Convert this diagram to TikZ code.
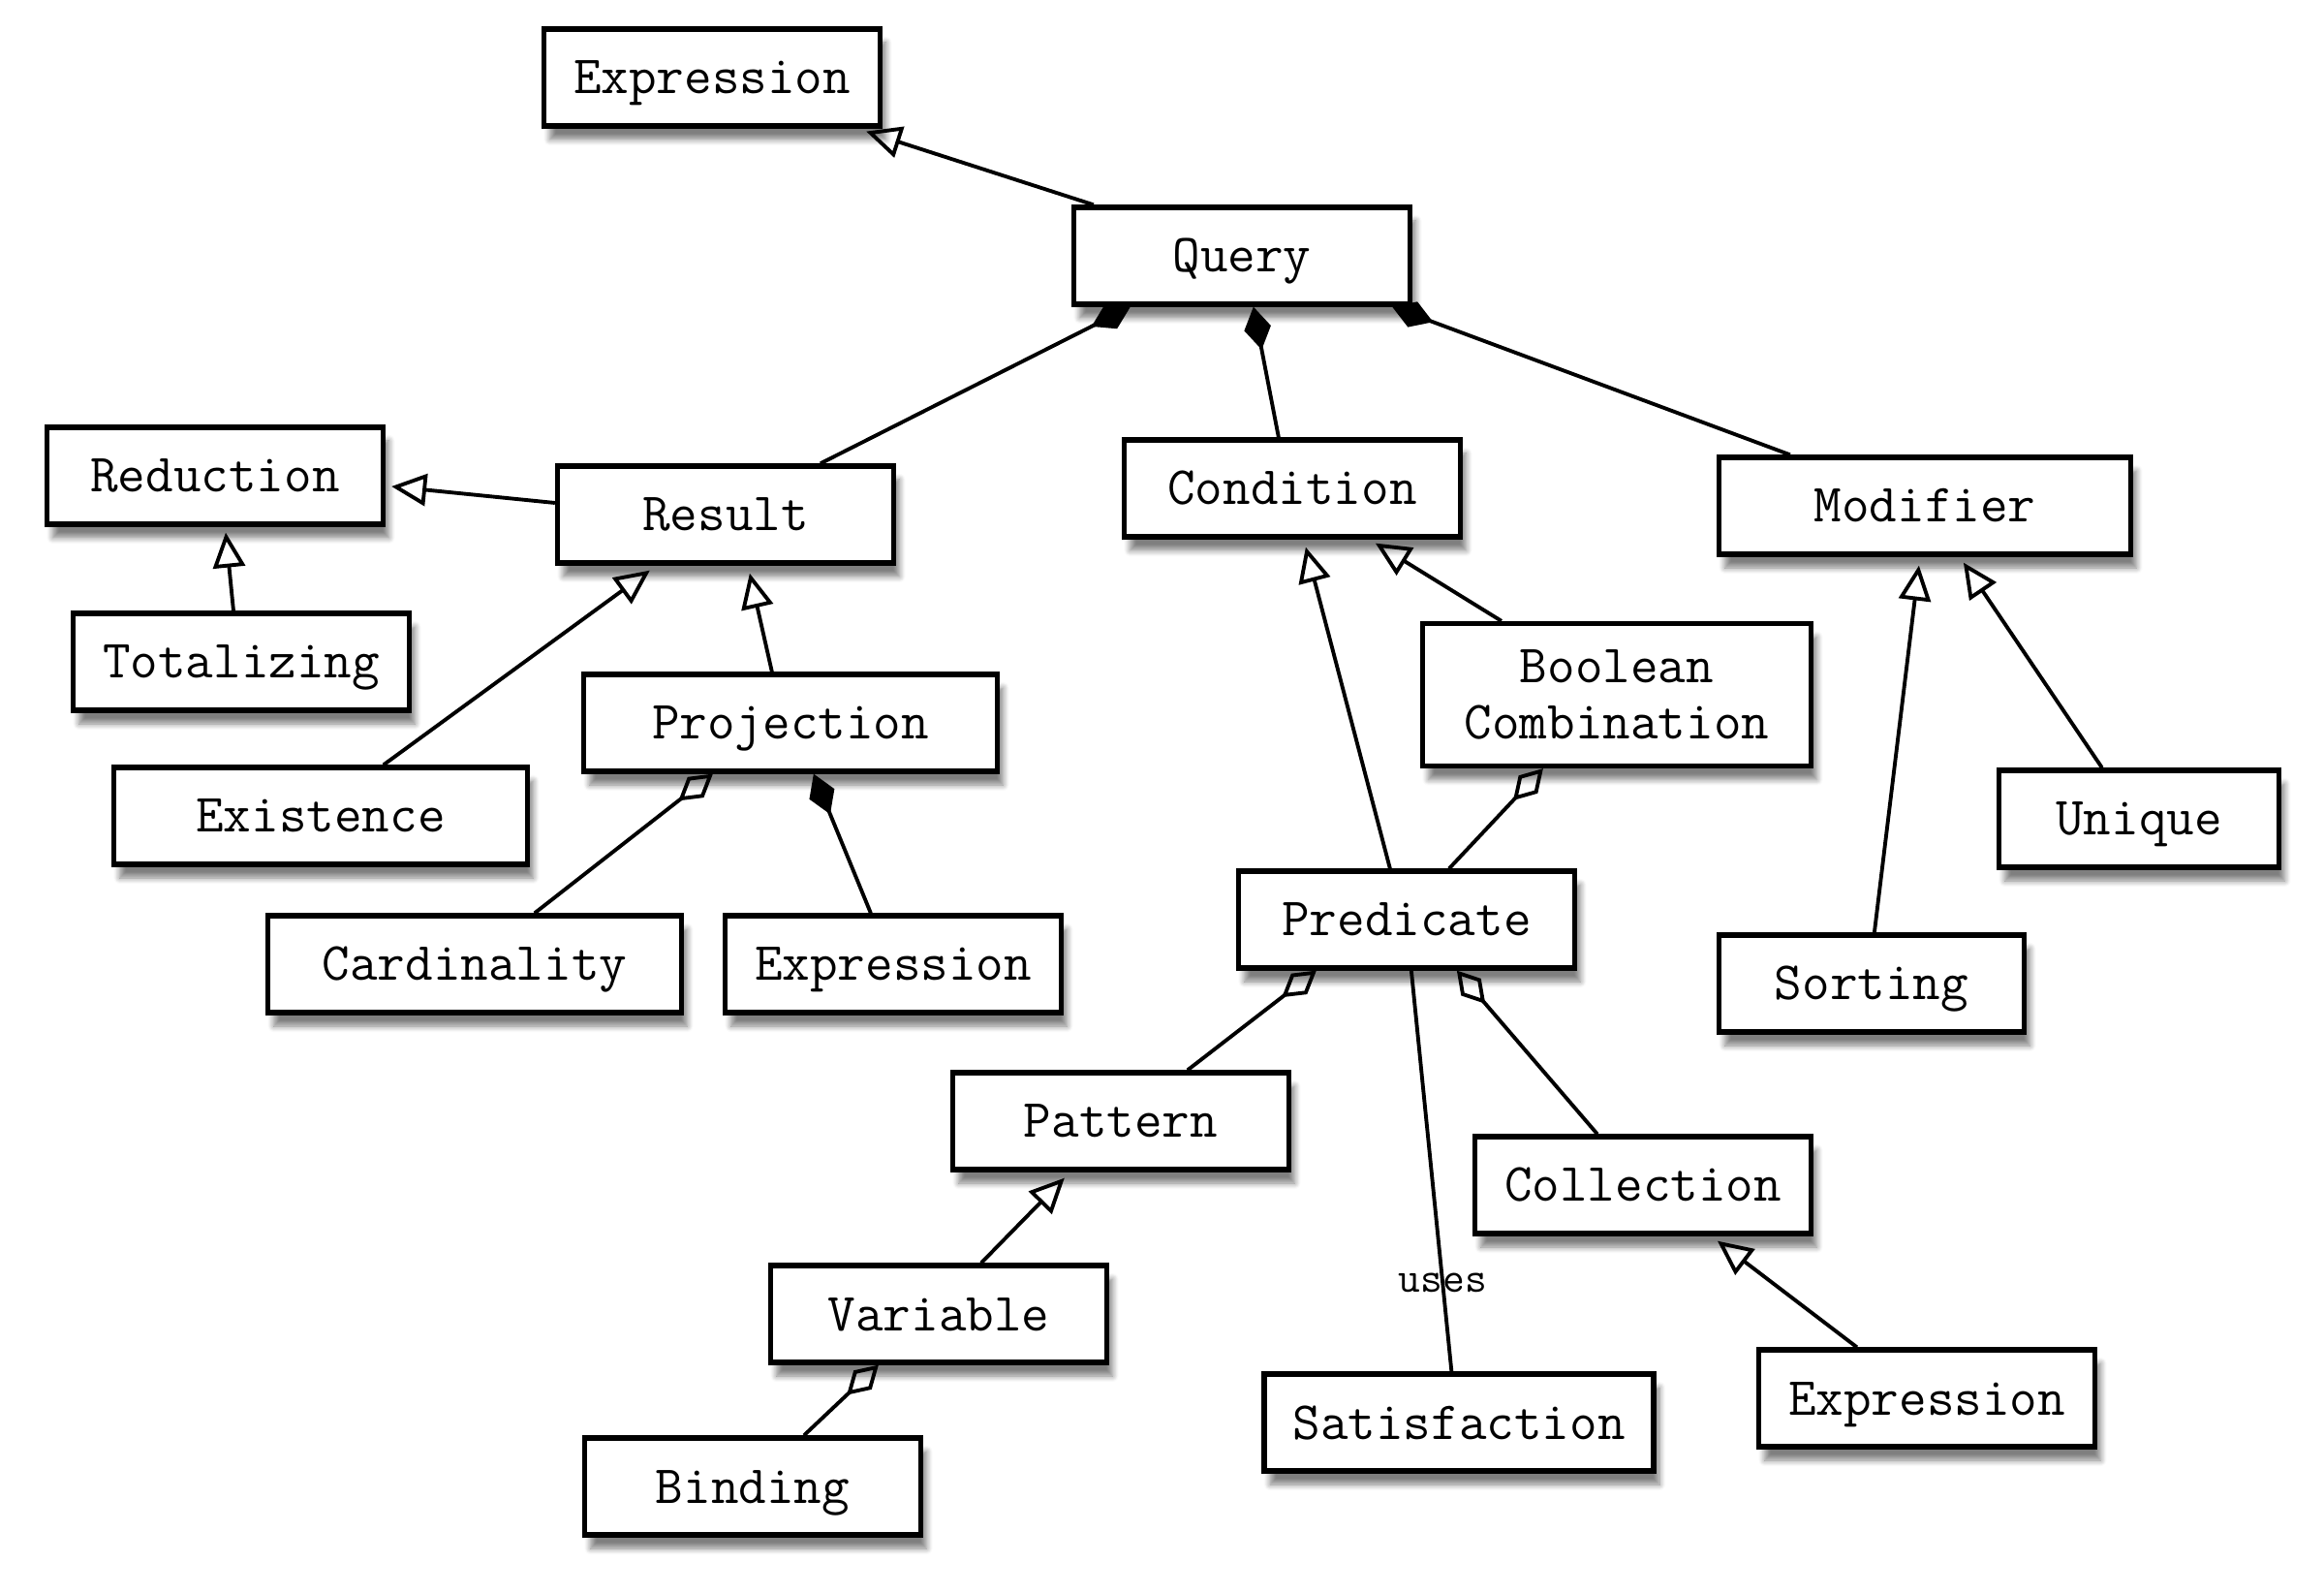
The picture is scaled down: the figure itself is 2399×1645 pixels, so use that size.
\documentclass[tikz,border=0pt]{standalone}
\usepackage{fontspec}
\usepackage{tikz}
\usetikzlibrary{calc, arrows.meta, shadows.blur}

\tikzset{
  class/.style={draw, line width=1.5pt, fill=white, minimum height=1cm,
    minimum width=3.47cm, inner sep=0pt, align=center,
    text height=3.6mm, text depth=0.2mm,
    font=\ttfamily\fontsize{15.8pt}{16.4pt}\selectfont,
    blur shadow={shadow xshift=0.6mm, shadow yshift=-1.4mm, shadow blur steps=7, shadow opacity=50}},
  isa/.style={line width=1.1pt, -{Triangle[open, length=3.6mm, width=3.3mm, line width=1.1pt]}},
  owns/.style={line width=1.1pt, {Diamond[length=4.5mm, width=2.8mm]}-},
  holds/.style={line width=1.1pt, {Diamond[open, length=4.5mm, width=2.7mm, line width=1.1pt]}-},
}

\begin{document}
\begin{tikzpicture}[x=0.1mm, y=-0.1mm]
  \useasboundingbox (0,0) rectangle (2399,1645);

  % classes
  \node[class] (expr1) at (735,80) {Expression};
  \node[class] (query) at (1282,264) {Query};
  \node[class] (reduction) at (222,491) {Reduction};
  \node[class] (result) at (749,531) {Result};
  \node[class] (condition) at (1334,504) {Condition};
  \node[class, minimum width=4.25cm] (modifier) at (1987,522) {Modifier};
  \node[class] (totalizing) at (249,683) {Totalizing};
  \node[class, minimum width=4.27cm] (projection) at (816,746) {Projection};
  \node[class, minimum width=4.01cm, minimum height=1.47cm, text height=, text depth=] (boolean) at (1669,717) {Boolean\\Combination};
  \node[class, minimum width=4.27cm] (existence) at (331,842) {Existence};
  \node[class, minimum width=2.89cm] (unique) at (2208,845) {Unique};
  \node[class, minimum width=4.27cm] (cardinality) at (490,995) {Cardinality};
  \node[class] (expr2) at (922,995) {Expression};
  \node[class] (predicate) at (1452,949) {Predicate};
  \node[class, minimum width=3.15cm] (sorting) at (1932,1015) {Sorting};
  \node[class] (pattern) at (1157,1157) {Pattern};
  \node[class] (collection) at (1696,1223) {Collection};
  \node[class] (variable) at (969,1356) {Variable};
  \node[class, minimum width=4.02cm] (satisfaction) at (1506,1468) {Satisfaction};
  \node[class] (expr3) at (1989,1443) {Expression};
  \node[class] (binding) at (777,1534) {Binding};

  % generalizations
  \draw[isa] ($(query.north west)+(23,0)$) -- ($(expr1.south east)+(-17,3)$);
  \draw[isa] ($(result.west)+(0,-12)$) -- ($(reduction.east)+(6,11)$);
  \draw[isa] ($(totalizing.north)+(-8,0)$) -- ($(reduction.south)+(11,6)$);
  \draw[isa] ($(existence.north west)+(281,0)$) -- ($(result.south west)+(98,5)$);
  \draw[isa] ($(projection.north west)+(197,0)$) -- ($(result.south west)+(201,8)$);
  \draw[isa] ($(predicate.north west)+(159,0)$) -- ($(condition.south west)+(190,8)$);
  \draw[isa] ($(boolean.north west)+(84,0)$) -- ($(condition.south west)+(262,4)$);
  \draw[isa] ($(sorting.north west)+(163,0)$) -- ($(modifier.south west)+(209,9)$);
  \draw[isa] ($(unique.north west)+(109,0)$) -- ($(modifier.south west)+(255,6)$);
  \draw[isa] ($(expr3.north west)+(104,0)$) -- ($(collection.south west)+(253,5)$);
  \draw[isa] ($(variable.north west)+(220,0)$) -- ($(pattern.south west)+(118,6)$);

  % compositions
  \draw[owns] ($(query.south west)+(61,0)$) -- ($(result.north west)+(274,0)$);
  \draw[owns] ($(query.south west)+(188,0)$) -- ($(condition.north west)+(162,0)$);
  \draw[owns] ($(query.south east)+(-21,0)$) -- ($(modifier.north west)+(76,0)$);
  \draw[owns] ($(projection.south west)+(240,0)$) -- ($(expr2.north west)+(153,0)$);

  % aggregations
  \draw[holds] ($(projection.south west)+(136,0)$) -- ($(cardinality.north west)+(278,0)$);
  \draw[holds] ($(boolean.south west)+(127,0)$) -- ($(predicate.north west)+(220,0)$);
  \draw[holds] ($(predicate.south west)+(83,0)$) -- ($(pattern.north west)+(245,0)$);
  \draw[holds] ($(predicate.south west)+(228,0)$) -- ($(collection.north west)+(129,0)$);
  \draw[holds] ($(variable.south west)+(114,0)$) -- ($(binding.north west)+(229,0)$);

  % association
  \draw[line width=1.1pt] ($(predicate.south west)+(181,0)$) -- ($(satisfaction.north west)+(196,0)$)
    node[pos=0.78, font=\ttfamily\fontsize{12.6pt}{13pt}\selectfont] (uses) {uses};
\end{tikzpicture}
\end{document}
